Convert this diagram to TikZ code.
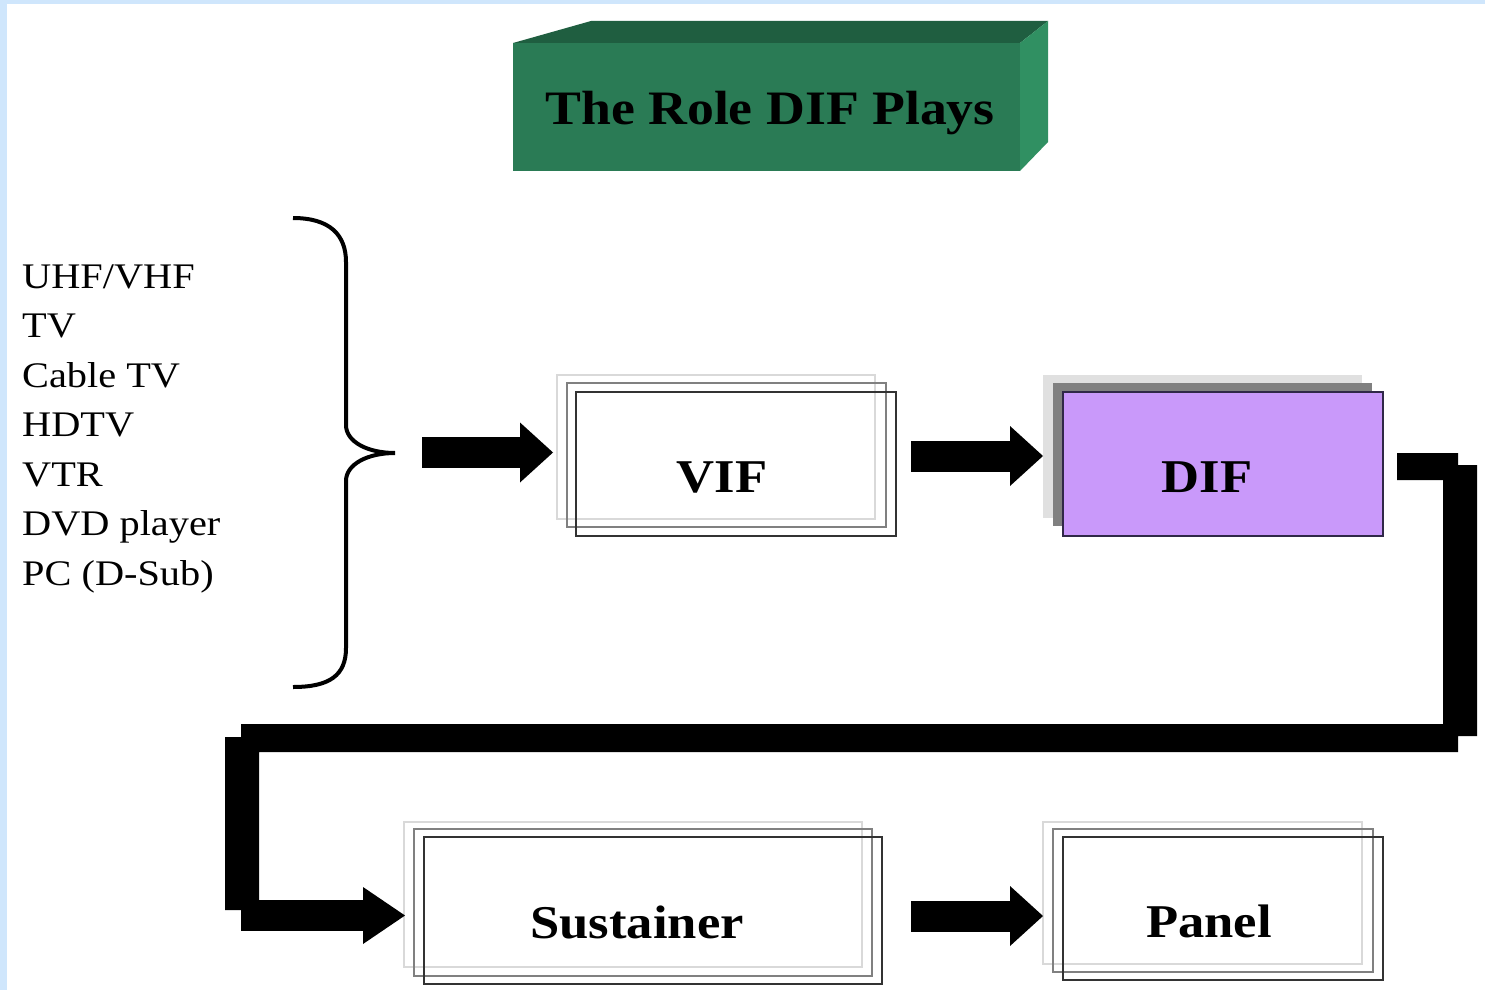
\documentclass[tikz,border=0pt]{standalone}
\usepackage{fontspec}
\setmainfont{Liberation Serif}[FakeStretch=1.12]
\usetikzlibrary{arrows.meta}
\definecolor{edgeblue}{HTML}{CFE6FC}
\definecolor{tfront}{HTML}{2A7B55}
\definecolor{ttop}{HTML}{1F5E40}
\definecolor{tside}{HTML}{309062}
\definecolor{lav}{HTML}{C999FA}
\definecolor{lavedge}{HTML}{302848}
\tikzset{
  layA/.style={draw=black!15, line width=1.5pt},
  layB/.style={draw=black!50, line width=1.8pt},
  layC/.style={draw=black!80, line width=1.8pt, inner sep=0pt},
  boxlabel/.style={font=\fontsize{47}{47}\selectfont\bfseries, anchor=base, inner sep=0pt},
  listitem/.style={font=\fontsize{36}{36}\selectfont, anchor=base west, inner sep=0pt},
  bigarrow/.style={line width=31pt, -{Triangle[length=33pt 0 0, width=60pt 0 0, line width=0pt 0 0]}},
}
\begin{document}
\begin{tikzpicture}[x=1pt,y=-1pt]
\useasboundingbox (0,0) rectangle (1485,990);
\fill[white] (0,0) rectangle (1485,990);
\fill[edgeblue] (0,0) rectangle (1485,4);
\fill[edgeblue] (0,0) rectangle (7,990);

% title block
\fill[tfront] (513,43) rectangle (1020,171);
\fill[ttop] (513,43) -- (591,21) -- (1048,21) -- (1020,43) -- cycle;
\fill[tside] (1020,43) -- (1048,21) -- (1048,142) -- (1020,171) -- cycle;
\node[font=\fontsize{48}{48}\selectfont\bfseries, anchor=base, inner sep=0pt] (title) at (770,124) {The Role DIF Plays};

% source list
\node[listitem] (s1) at (22,288) {UHF/VHF};
\node[listitem] (s2) at (22,337.5) {TV};
\node[listitem] (s3) at (22,387) {Cable TV};
\node[listitem] (s4) at (22,436.5) {HDTV};
\node[listitem] (s5) at (22,486) {VTR};
\node[listitem] (s6) at (22,535.5) {DVD player};
\node[listitem] (s7) at (22,585) {PC (D-Sub)};

% brace
\draw[line width=4pt] (293,218) .. controls (330,218) and (346,235) .. (346,262) -- (346,425)
  .. controls (346,442) and (368,453) .. (395,453)
  .. controls (368,453) and (346,464) .. (346,481) -- (346,648)
  .. controls (346,675) and (330,687) .. (293,687);

% VIF
\draw[layA] (557,375) rectangle (875,519);
\draw[layB] (567,383) rectangle (886,527);
\node[layC, minimum width=320pt, minimum height=144pt] (vif) at (736,464) {};
\node[boxlabel] (viftext) at (722,492) {VIF};

% DIF
\fill[black!12] (1043,375) rectangle (1362,518);
\fill[black!50] (1053,383) rectangle (1372,526);
\node[fill=lav, draw=lavedge, line width=1.5pt, inner sep=0pt, minimum width=320pt, minimum height=144pt] (dif) at (1223,464) {};
\node[boxlabel] (diftext) at (1207,492) {DIF};

% Sustainer
\draw[layA] (404,822) rectangle (862,967);
\draw[layB] (414,829) rectangle (872,976);
\node[layC, minimum width=458pt, minimum height=147pt] (sus) at (653,910.5) {};
\node[boxlabel] (sustext) at (637,938) {Sustainer};

% Panel
\draw[layA] (1043,822) rectangle (1362,964);
\draw[layB] (1053,829) rectangle (1373,972);
\node[layC, minimum width=320pt, minimum height=143pt] (panel) at (1223,908.5) {};
\node[boxlabel] (paneltext) at (1209,937) {Panel};

% straight arrows
\coordinate (a1s) at (422,452.5);
\coordinate (a1e) at (553,452.5);
\draw[bigarrow] (a1s) -- (a1e);
\coordinate (a2s) at (911,456);
\coordinate (a2e) at (1043,456);
\draw[bigarrow] (a2s) -- (a2e);
\coordinate (a3s) at (911,916);
\coordinate (a3e) at (1043,916);
\draw[bigarrow] (a3s) -- (a3e);

% DIF -> Sustainer connector
\fill[black] (1397,453) rectangle (1458,480)
  (1443,465) rectangle (1477,736)
  (241,724) rectangle (1458,752)
  (225,737) rectangle (259,910);
\coordinate (c4s) at (241,915.5);
\coordinate (c4e) at (405,915.5);
\draw[line width=31pt, -{Triangle[length=42pt 0 0, width=57pt 0 0, line width=0pt 0 0]}] (c4s) -- (c4e);
\end{tikzpicture}
\end{document}
